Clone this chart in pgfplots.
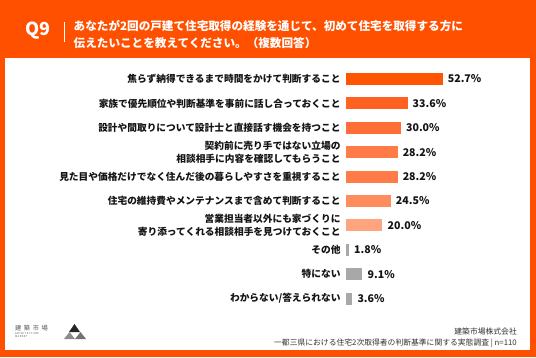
\documentclass[border=0pt]{standalone}
\usepackage{fontspec}
\setmainfont{Noto Sans CJK JP}
\usepackage{pgfplots}
\pgfplotsset{compat=1.18}
\definecolor{bgor}{RGB}{255,80,0}
\definecolor{c1}{RGB}{255,85,0}
\definecolor{c2}{RGB}{255,97,32}
\definecolor{c3}{RGB}{255,110,54}
\definecolor{c4}{RGB}{255,123,72}
\definecolor{c5}{RGB}{255,123,72}
\definecolor{c6}{RGB}{255,140,94}
\definecolor{c7}{RGB}{255,164,126}
\definecolor{cg}{RGB}{168,168,168}
\definecolor{txt}{RGB}{20,20,20}
\begin{document}
\begin{tikzpicture}[x=1pt,y=1pt]
\fill[bgor] (0,0) rectangle (536,357);
\fill[white] (5,7) rectangle (530,299);
% header
\node[anchor=west, text=white, font=\bfseries\fontsize{18}{20}\selectfont, inner sep=0pt] at (25,326) {Q9};
\draw[white, line width=0.7pt] (64,335) -- (64,315);
\node[anchor=west, text=white, font=\bfseries\fontsize{11.6}{13}\selectfont, inner sep=0pt] at (73.5,331) {あなたが2回の戸建て住宅取得の経験を通じて、初めて住宅を取得する方に};
\node[anchor=west, text=white, font=\bfseries\fontsize{11.6}{13}\selectfont, inner sep=0pt] at (73.5,314.3) {伝えたいことを教えてください。（複数回答）};
% chart
\begin{axis}[at={(345.7pt,46.2pt)}, anchor=south west, scale only axis,
  width=184pt, height=244pt, xmin=0, xmax=100, ymin=-0.5, ymax=9.5,
  y dir=reverse, xbar, bar width=12pt,
  axis line style={draw=none}, xtick=\empty,
  ytick={0,...,9}, major tick length=0pt,
  yticklabels={焦らず納得できるまで時間をかけて判断すること,
    家族で優先順位や判断基準を事前に話し合っておくこと,
    設計や間取りについて設計士と直接話す機会を持つこと,
    {契約前に売り手ではない立場の\\相談相手に内容を確認してもらうこと},
    見た目や価格だけでなく住んだ後の暮らしやすさを重視すること,
    住宅の維持費やメンテナンスまで含めて判断すること,
    {営業担当者以外にも家づくりに\\寄り添ってくれる相談相手を見つけておくこと},
    その他, 特にない, わからない/答えられない},
  yticklabel style={align=right, text=txt, font=\bfseries\fontsize{9.7}{12.3}\selectfont, inner sep=0pt, xshift=-5pt},
  point meta=x,
  nodes near coords={\pgfmathprintnumber[fixed,fixed zerofill,precision=1,assume math mode=true]{\pgfplotspointmeta}\%},
  nodes near coords style={anchor=west, inner sep=0pt, xshift=5pt, text=txt, font=\bfseries\fontsize{10.6}{12}\selectfont},
  clip=false]
\addplot[fill=c1, draw=none, bar shift=0pt] coordinates {(52.7,0)};
\addplot[fill=c2, draw=none, bar shift=0pt] coordinates {(33.6,1)};
\addplot[fill=c3, draw=none, bar shift=0pt] coordinates {(30.0,2)};
\addplot[fill=c4, draw=none, bar shift=0pt] coordinates {(28.2,3)};
\addplot[fill=c5, draw=none, bar shift=0pt] coordinates {(28.2,4)};
\addplot[fill=c6, draw=none, bar shift=0pt] coordinates {(24.5,5)};
\addplot[fill=c7, draw=none, bar shift=0pt] coordinates {(20.0,6)};
\addplot[fill=cg, draw=none, bar shift=0pt] coordinates {(1.8,7)};
\addplot[fill=cg, draw=none, bar shift=0pt] coordinates {(9.1,8)};
\addplot[fill=cg, draw=none, bar shift=0pt] coordinates {(3.6,9)};
\end{axis}
% footer
\node[anchor=east, text=black!80, font=\fontsize{7.8}{9}\selectfont, inner sep=0pt] at (517,25) {建築市場株式会社};
\node[anchor=east, text=black!80, font=\fontsize{7.8}{9}\selectfont, inner sep=0pt] at (517,14) {一都三県における住宅2次取得者の判断基準に関する実態調査 | n=110};
% logo
\node[anchor=west, text=black!65, font=\fontsize{6.3}{7}\selectfont, inner sep=0pt] at (15,29) {建\hspace{2.5pt}築\hspace{2.5pt}市\hspace{2.5pt}場};
\node[anchor=west, text=black!65, font=\fontsize{2.6}{3}\selectfont, inner sep=0pt] at (15,23.5) {A\,R\,C\,H\,I\,T\,E\,C\,T\,U\,R\,E};
\node[anchor=west, text=black!65, font=\fontsize{2.6}{3}\selectfont, inner sep=0pt] at (15,20) {M\,A\,R\,K\,E\,T};
\fill[black!85] (69,25) -- (80,25) -- (74.5,33) -- cycle;
\fill[black!45] (64,18) -- (75,18) -- (69.5,25) -- cycle;
\fill[black!55] (75,18) -- (86,18) -- (80.5,25) -- cycle;
\pgfresetboundingbox
\path (0,0) rectangle (536,357);
\end{tikzpicture}
\end{document}
